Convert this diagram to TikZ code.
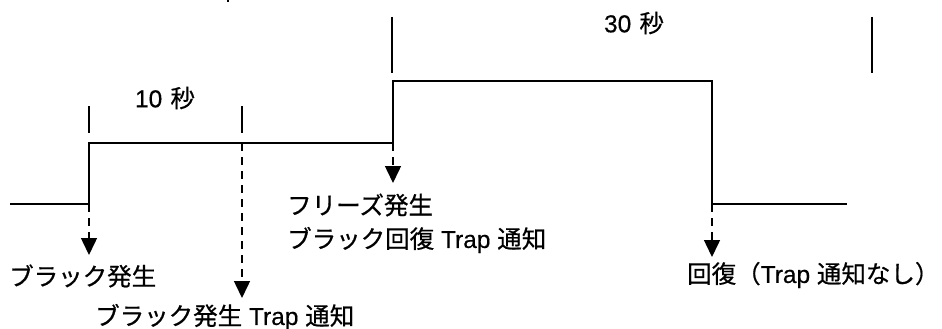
\documentclass[tikz,border=0pt]{standalone}
\usepackage{fontspec}
\setmainfont[FakeBold=0.6]{Noto Sans CJK JP}
\newfontfamily\latinfont[FakeBold=0.4]{Liberation Sans}
\newcommand{\lat}[1]{{\latinfont #1}}
\usetikzlibrary{arrows.meta}
\begin{document}
\begin{tikzpicture}[x=1pt,y=-1pt,
  sig/.style={line width=1.8pt, line join=miter},
  tickmark/.style={line width=1.6pt},
  evarrow/.style={line width=1.5pt, dash pattern=on 8pt off 6pt, -{Triangle[width=16pt,length=17pt]}},
  lbl/.style={font=\fontsize{24.5}{28}\selectfont, inner sep=0pt, anchor=west},
  dur/.style={font=\fontsize{24.5}{28}\selectfont, inner sep=0pt}]
\useasboundingbox (0,0) rectangle (942,329);
% signal corners
\coordinate (s0) at (10,204);
\coordinate (r1) at (89,204);
\coordinate (r1u) at (89,143);
\coordinate (m2) at (242,143);
\coordinate (r2) at (393,143);
\coordinate (r2u) at (393,81);
\coordinate (f1) at (712,81);
\coordinate (f1d) at (712,204);
\coordinate (s1) at (847,204);
\draw[sig] (s0) -- (r1) -- (r1u) -- (r2) -- (r2u) -- (f1) -- (f1d) -- (s1);
% duration ticks
\coordinate (t1a) at (89,106);  \coordinate (t1b) at (89,133);
\coordinate (t2a) at (242,106); \coordinate (t2b) at (242,133);
\coordinate (t3a) at (392,17);  \coordinate (t3b) at (392,73);
\coordinate (t4a) at (872,17);  \coordinate (t4b) at (872,73);
\coordinate (t5a) at (228,0);   \coordinate (t5b) at (228,2.5);
\draw[tickmark] (t1a) -- (t1b);
\draw[tickmark] (t2a) -- (t2b);
\draw[tickmark] (t3a) -- (t3b);
\draw[tickmark] (t4a) -- (t4b);
\draw[tickmark] (t5a) -- (t5b);
\node[dur] (d10) at (165,98) {\lat{10\,\,}秒};
\node[dur] (d30) at (634,23) {\lat{30\,\,}秒};
% event labels
\node[lbl] (l1) at (9,276) {ブラック発生};
\node[lbl] (l2) at (95,317) {ブラック発生\lat{ Trap }通知};
\node[lbl] (l3a) at (287,205) {フリーズ発生};
\node[lbl] (l3b) at (287,240) {ブラック回復\lat{ Trap }通知};
\node[lbl] (l4) at (687,275) {回復（\lat{Trap }通知なし）};
% arrow tips
\coordinate (a1) at (89,255);
\coordinate (a2) at (242,298);
\coordinate (a3) at (393,183);
\coordinate (a4) at (712,257);
\draw[evarrow] (r1) -- (a1);
\draw[evarrow] (m2) -- (a2);
\draw[evarrow] (r2) -- (a3);
\draw[evarrow] (f1d) -- (a4);
\end{tikzpicture}
\end{document}
